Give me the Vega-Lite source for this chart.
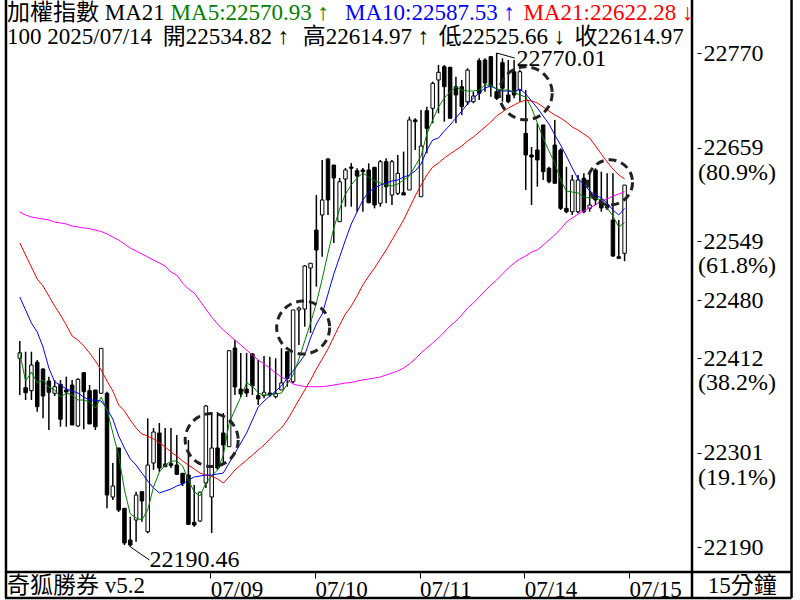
{
"$schema":"https://vega.github.io/schema/vega-lite/v6.json",
"width":697,"height":572,"autosize":"none","padding":{"left":0,"top":0,"right":103,"bottom":28},"background":"white",
"config":{"view":{"stroke":null},"font":"Liberation Serif","axis":{"grid":false}},
"datasets":{
"k":[
{"i":0,"o":22411.7,"h":22432.0,"l":22368.6,"c":22418.2,"m5":22417.9,"m10":22483.6,"m21":22547.0,"mx":22583.4},
{"i":1,"o":22377.2,"h":22419.4,"l":22362.7,"c":22371.3,"m5":22385.0,"m10":22468.4,"m21":22532.9,"mx":22579.9},
{"i":2,"o":22373.6,"h":22419.4,"l":22362.7,"c":22403.8,"m5":22395.6,"m10":22453.1,"m21":22518.8,"mx":22577.5},
{"i":3,"o":22407.0,"h":22409.7,"l":22349.0,"c":22354.9,"m5":22382.7,"m10":22442.5,"m21":22504.7,"mx":22576.3},
{"i":4,"o":22399.1,"h":22399.9,"l":22341.2,"c":22367.4,"m5":22386.2,"m10":22424.9,"m21":22496.5,"mx":22575.2},
{"i":5,"o":22385.0,"h":22390.1,"l":22327.5,"c":22371.8,"m5":22378.0,"m10":22400.3,"m21":22484.8,"mx":22574.0},
{"i":6,"o":22370.6,"h":22386.2,"l":22367.4,"c":22378.3,"m5":22374.5,"m10":22383.9,"m21":22473.0,"mx":22571.6},
{"i":7,"o":22381.1,"h":22386.2,"l":22331.4,"c":22340.1,"m5":22366.2,"m10":22380.3,"m21":22462.5,"mx":22570.5},
{"i":8,"o":22374.5,"h":22390.1,"l":22331.4,"c":22372.1,"m5":22370.9,"m10":22375.6,"m21":22450.7,"mx":22569.3},
{"i":9,"o":22380.3,"h":22386.2,"l":22333.4,"c":22333.4,"m5":22368.6,"m10":22373.3,"m21":22437.8,"mx":22566.9},
{"i":10,"o":22332.2,"h":22388.2,"l":22331.4,"c":22387.0,"m5":22362.7,"m10":22370.9,"m21":22433.1,"mx":22565.8},
{"i":11,"o":22394.8,"h":22394.8,"l":22328.3,"c":22372.5,"m5":22362.7,"m10":22366.2,"m21":22426.1,"mx":22564.6},
{"i":12,"o":22373.6,"h":22380.3,"l":22335.4,"c":22334.6,"m5":22360.4,"m10":22362.7,"m21":22417.9,"mx":22564.0},
{"i":13,"o":22374.5,"h":22374.5,"l":22327.5,"c":22331.4,"m5":22353.3,"m10":22362.7,"m21":22408.5,"mx":22562.2},
{"i":14,"o":22370.6,"h":22423.4,"l":22370.6,"c":22423.4,"m5":22366.2,"m10":22361.5,"m21":22397.9,"mx":22560.5},
{"i":15,"o":22370.6,"h":22372.5,"l":22235.6,"c":22251.2,"m5":22351.0,"m10":22352.2,"m21":22385.0,"mx":22557.6},
{"i":16,"o":22248.9,"h":22288.8,"l":22245.3,"c":22261.8,"m5":22324.0,"m10":22340.4,"m21":22373.3,"mx":22554.0},
{"i":17,"o":22306.4,"h":22306.4,"l":22231.3,"c":22233.6,"m5":22298.1,"m10":22320.5,"m21":22356.9,"mx":22550.5},
{"i":18,"o":22235.6,"h":22236.0,"l":22192.5,"c":22194.9,"m5":22257.1,"m10":22306.4,"m21":22349.8,"mx":22545.8},
{"i":19,"o":22198.4,"h":22225.8,"l":22190.46,"c":22192.5,"m5":22229.0,"m10":22293.5,"m21":22339.2,"mx":22541.1},
{"i":20,"o":22221.9,"h":22255.1,"l":22196.4,"c":22251.2,"m5":22224.3,"m10":22286.4,"m21":22329.9,"mx":22537.6},
{"i":21,"o":22255.1,"h":22255.1,"l":22219.9,"c":22244.2,"m5":22221.9,"m10":22277.0,"m21":22322.8,"mx":22534.1},
{"i":22,"o":22208.1,"h":22341.2,"l":22206.3,"c":22286.4,"m5":22233.7,"m10":22267.7,"m21":22320.5,"mx":22530.6},
{"i":23,"o":22288.8,"h":22329.9,"l":22280.6,"c":22325.2,"m5":22260.6,"m10":22259.4,"m21":22316.9,"mx":22527.0},
{"i":24,"o":22324.0,"h":22335.7,"l":22278.2,"c":22282.9,"m5":22278.2,"m10":22253.6,"m21":22312.2,"mx":22523.5},
{"i":25,"o":22287.6,"h":22329.9,"l":22284.1,"c":22284.4,"m5":22286.4,"m10":22255.9,"m21":22307.6,"mx":22520.0},
{"i":26,"o":22288.0,"h":22329.9,"l":22283.0,"c":22286.0,"m5":22291.1,"m10":22258.3,"m21":22301.7,"mx":22512.9},
{"i":27,"o":22286.4,"h":22321.6,"l":22274.7,"c":22275.5,"m5":22291.1,"m10":22261.8,"m21":22297.0,"mx":22509.4},
{"i":28,"o":22276.7,"h":22277.0,"l":22261.8,"c":22264.9,"m5":22285.3,"m10":22264.1,"m21":22291.1,"mx":22500.0},
{"i":29,"o":22274.7,"h":22315.8,"l":22216.0,"c":22216.8,"m5":22268.8,"m10":22268.8,"m21":22286.4,"mx":22493.0},
{"i":30,"o":22219.2,"h":22263.0,"l":22214.0,"c":22216.0,"m5":22254.8,"m10":22272.4,"m21":22281.7,"mx":22488.3},
{"i":31,"o":22220.7,"h":22255.1,"l":22219.9,"c":22254.4,"m5":22250.1,"m10":22273.5,"m21":22277.0,"mx":22478.9},
{"i":32,"o":22265.3,"h":22356.9,"l":22259.4,"c":22355.7,"m5":22265.3,"m10":22274.7,"m21":22274.7,"mx":22469.5},
{"i":33,"o":22248.9,"h":22347.5,"l":22206.6,"c":22306.4,"m5":22273.5,"m10":22274.7,"m21":22273.5,"mx":22460.1},
{"i":34,"o":22306.4,"h":22348.6,"l":22280.6,"c":22282.9,"m5":22280.6,"m10":22275.9,"m21":22270.0,"mx":22451.9},
{"i":35,"o":22324.0,"h":22347.5,"l":22288.8,"c":22309.9,"m5":22298.1,"m10":22277.0,"m21":22265.3,"mx":22444.9},
{"i":36,"o":22307.9,"h":22421.4,"l":22307.6,"c":22420.6,"m5":22335.7,"m10":22288.8,"m21":22272.4,"mx":22439.0},
{"i":37,"o":22423.8,"h":22433.1,"l":22368.6,"c":22378.0,"m5":22351.0,"m10":22300.5,"m21":22280.6,"mx":22433.1},
{"i":38,"o":22375.6,"h":22417.9,"l":22366.2,"c":22369.8,"m5":22366.2,"m10":22312.2,"m21":22286.4,"mx":22427.3},
{"i":39,"o":22375.6,"h":22417.9,"l":22366.2,"c":22370.9,"m5":22382.7,"m10":22324.0,"m21":22292.3,"mx":22421.4},
{"i":40,"o":22416.7,"h":22417.9,"l":22368.6,"c":22379.2,"m5":22379.2,"m10":22339.3,"m21":22298.1,"mx":22415.5},
{"i":41,"o":22367.8,"h":22409.7,"l":22356.9,"c":22363.9,"m5":22370.9,"m10":22354.5,"m21":22304.0,"mx":22409.7},
{"i":42,"o":22367.8,"h":22414.4,"l":22364.7,"c":22371.8,"m5":22368.6,"m10":22361.5,"m21":22309.9,"mx":22405.0},
{"i":43,"o":22370.9,"h":22413.5,"l":22366.6,"c":22368.6,"m5":22368.6,"m10":22367.4,"m21":22316.9,"mx":22400.3},
{"i":44,"o":22366.6,"h":22411.7,"l":22364.7,"c":22370.6,"m5":22369.8,"m10":22373.3,"m21":22324.0,"mx":22394.4},
{"i":45,"o":22374.5,"h":22423.4,"l":22374.5,"c":22382.7,"m5":22370.9,"m10":22379.2,"m21":22329.9,"mx":22389.7},
{"i":46,"o":22419.4,"h":22419.4,"l":22378.3,"c":22388.2,"m5":22381.5,"m10":22388.5,"m21":22339.2,"mx":22386.2},
{"i":47,"o":22384.2,"h":22468.4,"l":22382.3,"c":22468.4,"m5":22392.1,"m10":22396.8,"m21":22351.0,"mx":22381.5},
{"i":48,"o":22468.4,"h":22472.2,"l":22427.3,"c":22470.7,"m5":22410.8,"m10":22406.1,"m21":22362.7,"mx":22379.7},
{"i":49,"o":22469.5,"h":22521.2,"l":22448.8,"c":22520.0,"m5":22432.0,"m10":22415.5,"m21":22374.5,"mx":22378.6},
{"i":50,"o":22517.6,"h":22523.5,"l":22441.4,"c":22523.2,"m5":22453.1,"m10":22435.5,"m21":22386.2,"mx":22378.3},
{"i":51,"o":22562.2,"h":22603.3,"l":22495.7,"c":22538.8,"m5":22476.6,"m10":22451.9,"m21":22399.1,"mx":22378.3},
{"i":52,"o":22579.9,"h":22644.4,"l":22530.9,"c":22597.5,"m5":22504.7,"m10":22463.7,"m21":22410.8,"mx":22378.3},
{"i":53,"o":22645.6,"h":22646.8,"l":22579.9,"c":22597.5,"m5":22535.3,"m10":22487.1,"m21":22422.6,"mx":22379.2},
{"i":54,"o":22638.5,"h":22638.5,"l":22547.0,"c":22623.3,"m5":22564.6,"m10":22510.6,"m21":22436.7,"mx":22380.3},
{"i":55,"o":22572.0,"h":22623.3,"l":22572.0,"c":22618.9,"m5":22586.9,"m10":22530.6,"m21":22450.7,"mx":22381.5},
{"i":56,"o":22622.1,"h":22635.0,"l":22589.6,"c":22632.7,"m5":22604.5,"m10":22550.5,"m21":22463.7,"mx":22382.7},
{"i":57,"o":22636.2,"h":22640.9,"l":22589.6,"c":22634.7,"m5":22615.1,"m10":22569.3,"m21":22473.0,"mx":22383.3},
{"i":58,"o":22631.8,"h":22634.7,"l":22583.7,"c":22625.6,"m5":22623.3,"m10":22583.4,"m21":22484.8,"mx":22385.0},
{"i":59,"o":22632.7,"h":22635.0,"l":22583.7,"c":22630.7,"m5":22629.1,"m10":22597.5,"m21":22497.7,"mx":22386.2},
{"i":60,"o":22632.7,"h":22640.5,"l":22593.6,"c":22594.3,"m5":22624.4,"m10":22606.8,"m21":22508.3,"mx":22387.4},
{"i":61,"o":22635.8,"h":22636.5,"l":22587.7,"c":22591.6,"m5":22619.8,"m10":22611.5,"m21":22517.6,"mx":22388.5},
{"i":62,"o":22593.6,"h":22644.4,"l":22589.6,"c":22642.4,"m5":22617.4,"m10":22615.1,"m21":22528.2,"mx":22389.7},
{"i":63,"o":22642.4,"h":22646.4,"l":22593.6,"c":22613.1,"m5":22615.1,"m10":22617.4,"m21":22538.8,"mx":22392.1},
{"i":64,"o":22603.3,"h":22644.4,"l":22591.6,"c":22642.4,"m5":22613.9,"m10":22619.8,"m21":22550.5,"mx":22394.4},
{"i":65,"o":22605.3,"h":22650.3,"l":22603.3,"c":22628.8,"m5":22616.2,"m10":22620.9,"m21":22562.2,"mx":22396.8},
{"i":66,"o":22606.0,"h":22654.2,"l":22603.3,"c":22603.3,"m5":22620.9,"m10":22624.4,"m21":22574.0,"mx":22400.3},
{"i":67,"o":22609.2,"h":22695.2,"l":22609.2,"c":22691.4,"m5":22625.6,"m10":22626.8,"m21":22588.1,"mx":22405.0},
{"i":68,"o":22691.4,"h":22693.3,"l":22656.1,"c":22689.4,"m5":22637.4,"m10":22631.5,"m21":22602.2,"mx":22410.8},
{"i":69,"o":22601.3,"h":22703.1,"l":22601.3,"c":22660.8,"m5":22649.1,"m10":22639.7,"m21":22615.1,"mx":22417.9},
{"i":70,"o":22702.3,"h":22707.0,"l":22652.3,"c":22681.6,"m5":22674.9,"m10":22656.1,"m21":22626.8,"mx":22423.8},
{"i":71,"o":22705.1,"h":22736.3,"l":22687.5,"c":22734.4,"m5":22691.4,"m10":22667.9,"m21":22636.2,"mx":22429.6},
{"i":72,"o":22738.3,"h":22755.9,"l":22699.2,"c":22747.3,"m5":22706.6,"m10":22670.2,"m21":22640.9,"mx":22435.5},
{"i":73,"o":22753.9,"h":22755.9,"l":22689.4,"c":22730.4,"m5":22717.2,"m10":22678.4,"m21":22646.8,"mx":22442.5},
{"i":74,"o":22753.2,"h":22753.9,"l":22693.4,"c":22693.4,"m5":22724.2,"m10":22685.5,"m21":22651.5,"mx":22449.6},
{"i":75,"o":22730.4,"h":22742.2,"l":22687.5,"c":22720.7,"m5":22730.1,"m10":22693.7,"m21":22656.1,"mx":22455.4},
{"i":76,"o":22730.4,"h":22738.3,"l":22697.2,"c":22707.0,"m5":22726.6,"m10":22701.9,"m21":22660.8,"mx":22462.5},
{"i":77,"o":22712.8,"h":22752.0,"l":22709.0,"c":22750.0,"m5":22725.4,"m10":22710.1,"m21":22666.7,"mx":22470.7},
{"i":78,"o":22712.8,"h":22724.6,"l":22711.0,"c":22719.5,"m5":22725.4,"m10":22717.2,"m21":22671.4,"mx":22476.6},
{"i":79,"o":22761.0,"h":22763.8,"l":22714.8,"c":22722.7,"m5":22726.6,"m10":22723.0,"m21":22677.3,"mx":22483.6},
{"i":80,"o":22761.8,"h":22763.8,"l":22724.6,"c":22734.8,"m5":22732.4,"m10":22728.9,"m21":22683.1,"mx":22490.7},
{"i":81,"o":22765.7,"h":22766.5,"l":22718.7,"c":22730.4,"m5":22732.4,"m10":22731.3,"m21":22689.0,"mx":22497.7},
{"i":82,"o":22724.6,"h":22770.01,"l":22714.8,"c":22716.8,"m5":22727.7,"m10":22727.7,"m21":22696.1,"mx":22503.6},
{"i":83,"o":22758.6,"h":22763.8,"l":22712.8,"c":22728.6,"m5":22726.6,"m10":22725.4,"m21":22700.8,"mx":22510.6},
{"i":84,"o":22720.7,"h":22761.8,"l":22711.0,"c":22712.8,"m5":22726.6,"m10":22725.4,"m21":22705.4,"mx":22517.6},
{"i":85,"o":22748.0,"h":22761.8,"l":22716.8,"c":22720.7,"m5":22724.2,"m10":22724.2,"m21":22709.0,"mx":22523.5},
{"i":86,"o":22726.6,"h":22750.0,"l":22712.8,"c":22748.0,"m5":22720.7,"m10":22727.7,"m21":22712.5,"mx":22528.2},
{"i":87,"o":22675.7,"h":22726.6,"l":22609.2,"c":22650.3,"m5":22718.4,"m10":22721.9,"m21":22714.8,"mx":22531.7},
{"i":88,"o":22650.3,"h":22659.7,"l":22591.6,"c":22647.9,"m5":22705.4,"m10":22713.7,"m21":22713.7,"mx":22536.4},
{"i":89,"o":22656.1,"h":22687.5,"l":22613.1,"c":22644.4,"m5":22687.8,"m10":22705.4,"m21":22711.3,"mx":22538.8},
{"i":90,"o":22685.5,"h":22685.5,"l":22620.9,"c":22630.7,"m5":22670.2,"m10":22696.0,"m21":22706.6,"mx":22544.6},
{"i":91,"o":22634.7,"h":22636.5,"l":22617.1,"c":22618.9,"m5":22654.9,"m10":22686.7,"m21":22701.9,"mx":22550.5},
{"i":92,"o":22662.0,"h":22691.4,"l":22617.1,"c":22617.1,"m5":22640.9,"m10":22673.8,"m21":22697.2,"mx":22556.4},
{"i":93,"o":22656.1,"h":22658.1,"l":22585.7,"c":22587.7,"m5":22620.9,"m10":22662.0,"m21":22693.7,"mx":22563.4},
{"i":94,"o":22587.7,"h":22636.5,"l":22581.9,"c":22583.7,"m5":22608.0,"m10":22649.1,"m21":22689.0,"mx":22571.6},
{"i":95,"o":22583.7,"h":22626.8,"l":22579.9,"c":22620.9,"m5":22606.8,"m10":22635.0,"m21":22683.1,"mx":22576.3},
{"i":96,"o":22583.7,"h":22626.8,"l":22581.9,"c":22620.9,"m5":22605.7,"m10":22622.1,"m21":22679.6,"mx":22581.0},
{"i":97,"o":22622.9,"h":22628.8,"l":22581.9,"c":22583.7,"m5":22601.0,"m10":22616.2,"m21":22674.9,"mx":22584.6},
{"i":98,"o":22587.7,"h":22628.8,"l":22583.7,"c":22591.6,"m5":22599.8,"m10":22608.0,"m21":22670.2,"mx":22588.1},
{"i":99,"o":22632.7,"h":22634.7,"l":22591.6,"c":22597.5,"m5":22599.8,"m10":22603.3,"m21":22660.8,"mx":22591.6},
{"i":100,"o":22597.5,"h":22630.7,"l":22583.7,"c":22588.1,"m5":22597.5,"m10":22599.8,"m21":22651.5,"mx":22596.3},
{"i":101,"o":22591.6,"h":22628.8,"l":22585.7,"c":22588.1,"m5":22588.1,"m10":22594.0,"m21":22642.1,"mx":22598.6},
{"i":102,"o":22574.0,"h":22628.8,"l":22530.9,"c":22531.7,"m5":22578.7,"m10":22585.7,"m21":22633.8,"mx":22602.2},
{"i":103,"o":22530.9,"h":22574.0,"l":22529.0,"c":22529.0,"m5":22565.8,"m10":22579.9,"m21":22626.8,"mx":22604.5},
{"i":104,"o":22534.82,"h":22614.97,"l":22525.66,"c":22614.97,"m5":22570.93,"m10":22587.53,"m21":22622.28,"mx":22607.2}
],
"cbig":[{"i":33.0,"p":22315.8},{"i":48.73,"p":22447.8},{"i":87.0,"p":22722.7}],
"csmall":[{"i":101.5,"p":22618.2}],
"lead":[{"i":19,"p":22190.46,"i2":22.3,"p2":22174.9},{"i":82,"p":22770.01,"i2":85.1,"p2":22764.1}],
"frame":[
{"i":-2.373,"p":22832.21,"i2":-2.373,"p2":22130.33},
{"i":115.593,"p":22832.21,"i2":115.593,"p2":22130.33},
{"i":132.71,"p":22832.21,"i2":132.71,"p2":22130.33},
{"i":-2.542,"p":22130.33,"i2":132.71,"p2":22130.33},
{"i":-2.542,"p":22160.85,"i2":132.71,"p2":22160.85}
],
"pct":[{"i":116.61,"p":22659,"t":"(80.9%)"},{"i":116.61,"p":22549,"t":"(61.8%)"},{"i":116.61,"p":22412,"t":"(38.2%)"},{"i":116.61,"p":22301,"t":"(19.1%)"}],
"hdr":[
{"i":-2.2,"p":22816.9,"t":"加權指數 MA21","k":"t"},
{"i":25.93,"p":22816.9,"t":"MA5:22570.93 ↑","k":"m5"},
{"i":55.93,"p":22816.9,"t":"MA10:22587.53 ↑","k":"m10"},
{"i":86.61,"p":22816.9,"t":"MA21:22622.28 ↓","k":"m21"},
{"i":-2.2,"p":22788.8,"t":"100 2025/07/14","k":"t"},
{"i":24.58,"p":22788.8,"t":"開22534.82 ↑","k":"t"},
{"i":48.64,"p":22788.8,"t":"高22614.97 ↑","k":"t"},
{"i":72.03,"p":22788.8,"t":"低22525.66 ↓","k":"t"},
{"i":95.4,"p":22788.8,"t":"收22614.97","k":"t"}
],
"ann":[{"i":85.42,"p":22763.5,"t":"22770.01"},{"i":22.32,"p":22174.9,"t":"22190.46"}],
"strip":[{"i":-2.2,"p":22144.4,"t":"奇狐勝券 v5.2"}],
"strip2":[{"i":124.24,"p":22144.4,"t":"15分鐘"}]
},
"encoding":{"x":{"field":"i","type":"quantitative","scale":{"domain":[-2.542,115.593],"nice":false,"zero":false},
 "axis":{"orient":"bottom","title":null,"values":[32.75,50.75,68.75,86.75,104.75],
 "labelExpr":"datum.value < 40 ? '07/09' : datum.value < 60 ? '07/10' : datum.value < 80 ? '07/11' : datum.value < 95 ? '07/14' : '07/15'",
 "labelAlign":"left","labelBaseline":"top","labelPadding":0,"tickSize":6,"tickColor":"black","tickWidth":1,"domain":false,
 "labelFont":"Liberation Serif","labelFontSize":23,"labelColor":"black","labelOverlap":false,"labelBound":false,"labelFlush":false}}},
"layer":[
{"data":{"name":"k"},"mark":{"type":"rule","color":"black","strokeWidth":1.5},
 "encoding":{"y":{"field":"l","type":"quantitative","scale":{"domain":[22160.85,22832.21],"nice":false,"zero":false},
  "axis":{"orient":"right","title":null,"values":[22770,22659,22549,22480,22412,22301,22190],
  "labelExpr":"format(datum.value,'d')",
  "labelFont":"Liberation Serif","labelFontSize":24,"labelColor":"black","labelAlign":"left","labelBaseline":"middle",
  "tickSize":4,"tickColor":"black","tickWidth":1,"labelPadding":2,"domain":false,"labelOverlap":false,"labelBound":false,"labelFlush":false}},
  "y2":{"field":"h"}}},
{"data":{"name":"k"},"mark":{"type":"bar","width":3.5,"stroke":"black","strokeWidth":1,"orient":"vertical"},
 "encoding":{"y":{"field":"o","type":"quantitative","scale":{"domain":[22160.85,22832.21],"nice":false,"zero":false}},
  "y2":{"field":"c"},
  "fill":{"condition":{"test":"datum.c >= datum.o","value":"white"},"value":"black"}}},
{"data":{"name":"k"},"mark":{"type":"line","color":"#ff00ff","strokeWidth":1},
 "encoding":{"y":{"field":"mx","type":"quantitative","scale":{"domain":[22160.85,22832.21],"nice":false,"zero":false}}}},
{"data":{"name":"k"},"mark":{"type":"line","color":"#ff0000","strokeWidth":1},
 "encoding":{"y":{"field":"m21","type":"quantitative","scale":{"domain":[22160.85,22832.21],"nice":false,"zero":false}}}},
{"data":{"name":"k"},"mark":{"type":"line","color":"#0000ff","strokeWidth":1},
 "encoding":{"y":{"field":"m10","type":"quantitative","scale":{"domain":[22160.85,22832.21],"nice":false,"zero":false}}}},
{"data":{"name":"k"},"mark":{"type":"line","color":"#008000","strokeWidth":1},
 "encoding":{"y":{"field":"m5","type":"quantitative","scale":{"domain":[22160.85,22832.21],"nice":false,"zero":false}}}},
{"data":{"name":"cbig"},"mark":{"type":"point","shape":"circle","filled":false,"color":"#222222","strokeWidth":3,"strokeDash":[8,5],"size":2810,"opacity":1},
 "encoding":{"y":{"field":"p","type":"quantitative","scale":{"domain":[22160.85,22832.21],"nice":false,"zero":false}}}},
{"data":{"name":"csmall"},"mark":{"type":"point","shape":"circle","filled":false,"color":"#222222","strokeWidth":3,"strokeDash":[8,5],"size":2030,"opacity":1},
 "encoding":{"y":{"field":"p","type":"quantitative","scale":{"domain":[22160.85,22832.21],"nice":false,"zero":false}}}},
{"data":{"name":"lead"},"mark":{"type":"rule","color":"black","strokeWidth":1},
 "encoding":{"y":{"field":"p","type":"quantitative","scale":{"domain":[22160.85,22832.21],"nice":false,"zero":false}},
  "x2":{"field":"i2"},"y2":{"field":"p2"}}},
{"data":{"name":"frame"},"mark":{"type":"rule","color":"black","strokeWidth":2.5},
 "encoding":{"y":{"field":"p","type":"quantitative","scale":{"domain":[22160.85,22832.21],"nice":false,"zero":false}},
  "x2":{"field":"i2"},"y2":{"field":"p2"}}},
{"data":{"name":"pct"},"mark":{"type":"text","align":"left","baseline":"middle","fontSize":24,"font":"Liberation Serif","color":"black","dy":25},
 "encoding":{"y":{"field":"p","type":"quantitative","scale":{"domain":[22160.85,22832.21],"nice":false,"zero":false}},
  "text":{"field":"t"}}},
{"data":{"name":"hdr"},"mark":{"type":"text","align":"left","baseline":"middle","fontSize":23,"font":"Liberation Serif, Noto Sans CJK TC"},
 "encoding":{"y":{"field":"p","type":"quantitative","scale":{"domain":[22160.85,22832.21],"nice":false,"zero":false}},
  "text":{"field":"t"},
  "color":{"field":"k","type":"nominal","scale":{"domain":["t","m5","m10","m21"],"range":["black","#008000","#0000ff","#ff0000"]},"legend":null}}},
{"data":{"name":"ann"},"mark":{"type":"text","align":"left","baseline":"middle","fontSize":24,"font":"Liberation Serif","color":"black"},
 "encoding":{"y":{"field":"p","type":"quantitative","scale":{"domain":[22160.85,22832.21],"nice":false,"zero":false}},
  "text":{"field":"t"}}},
{"data":{"name":"strip"},"mark":{"type":"text","align":"left","baseline":"middle","fontSize":23,"font":"Liberation Serif, Noto Sans CJK TC","color":"black"},
 "encoding":{"y":{"field":"p","type":"quantitative","scale":{"domain":[22160.85,22832.21],"nice":false,"zero":false}},
  "text":{"field":"t"}}},
{"data":{"name":"strip2"},"mark":{"type":"text","align":"center","baseline":"middle","fontSize":23,"font":"Liberation Serif, Noto Sans CJK TC","color":"black"},
 "encoding":{"y":{"field":"p","type":"quantitative","scale":{"domain":[22160.85,22832.21],"nice":false,"zero":false}},
  "text":{"field":"t"}}}
]
}
